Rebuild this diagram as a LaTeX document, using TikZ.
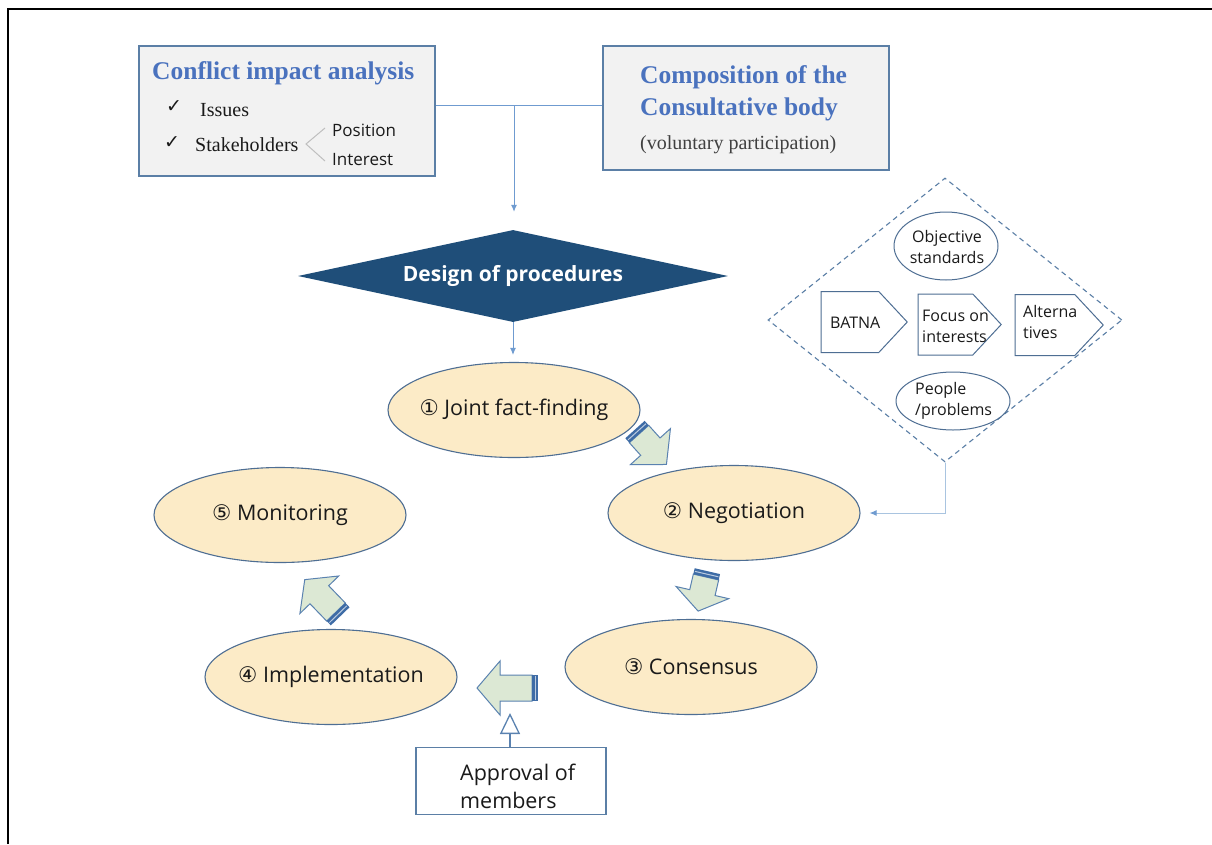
\documentclass[tikz,border=0pt]{standalone}
\usepackage{fontspec}
\setmainfont{Liberation Serif}
\setsansfont{Open Sans}
\newfontfamily\symf{DejaVu Sans}
\usetikzlibrary{shapes.geometric,shapes.symbols,arrows.meta}

\definecolor{boxline}{HTML}{5B7FA6}
\definecolor{boxfill}{HTML}{F2F2F2}
\definecolor{titleblue}{HTML}{4A72BE}
\definecolor{navy}{HTML}{1F4E79}
\definecolor{peach}{HTML}{FCEBC7}
\definecolor{ellline}{HTML}{4E6E93}
\definecolor{arrfill}{HTML}{DCE8D4}
\definecolor{arrline}{HTML}{5A82B0}
\definecolor{stripe}{HTML}{3E6CA6}
\definecolor{conn}{HTML}{6F9BD0}
\definecolor{connlight}{HTML}{A9C4E0}
\definecolor{txt}{HTML}{1A1A1A}

\tikzset{
  infobox/.style={draw=boxline, line width=1.2pt, fill=boxfill, inner sep=0pt},
  stage/.style={ellipse, draw=ellline, line width=1.1pt, fill=peach, inner xsep=-40pt, inner ysep=0pt,
    minimum width=252pt, minimum height=95pt, font=\sffamily\fontsize{21.5}{25}\selectfont, text=txt},
  principle/.style={signal, signal to=east, signal pointer angle=94, draw=ellline, line width=1pt,
    fill=white, inner sep=0pt, minimum height=61pt},
  small/.style={font=\sffamily\fontsize{16}{21}\selectfont, text=txt, align=left, inner sep=0pt},
  flow/.style={draw=conn, line width=1pt, -{Latex[length=7pt,width=6pt]}},
  serifnote/.style={font=\fontsize{20}{23}\selectfont, text=txt, inner sep=0pt},
  sansnote/.style={font=\sffamily\fontsize{17}{20}\selectfont, text=txt, inner sep=0pt},
  headline/.style={font=\bfseries\fontsize{25.5}{32}\selectfont, text=titleblue, inner sep=0pt, align=left},
  tick/.style={font=\symf\fontsize{19}{21}\selectfont, text=txt, inner sep=0pt},
}

% fat block arrow: position of the tail, direction, shaft length, head length
\newcommand\fatarrow[4]{%
  \begin{scope}[shift={#1}, rotate=#2]
    \filldraw[fill=arrfill, draw=arrline, line width=1pt, line join=miter]
      (0,13) -- (#3,13) -- (#3,27) -- ({#3+#4},0) -- (#3,-27) -- (#3,-13) -- (0,-13) -- cycle;
    \fill[stripe] (-6,-13) rectangle (0,13);
    \draw[white!65!stripe, line width=1pt] (-3,-12) -- (-3,12);
  \end{scope}}

\begin{document}
\begin{tikzpicture}[x=1pt, y=-1pt]
\useasboundingbox (0,0) rectangle (1212,844);
\fill[white] (0,0) rectangle (1212,844);

% page frame
\draw[line width=2.5pt] (8,844) -- (8,9) -- (1212,9);

% conflict impact analysis
\node[infobox, minimum width=296pt, minimum height=130pt] (cia) at (287,111) {};
\node[headline, anchor=west] (ciat) at (152,73) {Conflict impact analysis};
\node[tick] (ck1) at (174,107) {✓};
\node[tick] (ck2) at (172,143) {✓};
\node[serifnote, anchor=west] (iss) at (200,110) {Issues};
\node[serifnote, anchor=west] (stk) at (195,145) {Stakeholders};
\node[sansnote, anchor=west] (pos) at (332,130) {Position};
\node[sansnote, anchor=west] (intr) at (332,160) {Interest};
\draw[black!25, line width=1pt] (325,128) -- (306,144) -- (325,161);

% composition of the consultative body
\node[infobox, minimum width=286pt, minimum height=124pt] (comp) at (746,108) {};
\node[headline, anchor=north west] (compt) at (640,65) {Composition of the\\Consultative body};
\node[serifnote, anchor=west, text=black!75] (vol) at (640,145) {(voluntary participation)};

% design of procedures
\node[diamond, aspect=4.67, minimum width=430pt, minimum height=92pt, inner sep=0pt,
  fill=navy, text=white, font=\sffamily\bfseries\fontsize{21}{24}\selectfont] (design) at (513,276)
  {Design of procedures};

\coordinate (join) at (514,105);
\draw[conn, line width=1pt] (cia.east |- join) -- (comp.west |- join);
\draw[flow, shorten >=18pt] (join) -- (join |- design.north);

% process stages
\node[stage] (jf)  at (514,410) {{\symf ①} Joint fact-finding};
\node[stage] (neg) at (734,513) {{\symf ②} Negotiation};
\node[stage] (con) at (691,667) {{\symf ③} Consensus};
\node[stage] (imp) at (331,677) {{\symf ④} Implementation};
\node[stage] (mon) at (280,515) {{\symf ⑤} Monitoring};

\draw[flow, shorten >=7pt] (design.south) -- (design.south |- jf.north);

% block arrows between the stages
\fatarrow{(639,434)}{-48}{17}{24}
\fatarrow{(706,577)}{-103}{16}{19}
\fatarrow{(532,688)}{180}{32}{23}
\fatarrow{(336,612)}{134}{24}{21}

% approval of members
\node[draw=boxline, line width=1.2pt, fill=white, minimum width=190pt, minimum height=67pt,
  inner sep=0pt] (appr) at (511,781) {};
\node[font=\sffamily\fontsize{21.5}{28}\selectfont, text=txt, align=left, anchor=west, inner sep=0pt]
  (apprt) at (460,786) {Approval of\\members};
\draw[draw=arrline, line width=1.3pt, -{Triangle[open, length=21pt, width=20pt, line width=1.3pt]}]
  (appr.north -| 510,0) -- (510,713);

% principled negotiation
\node[diamond, aspect=1.25, minimum width=354pt, minimum height=284pt, inner sep=0pt,
  draw=boxline, line width=1.1pt, dash pattern=on 5pt off 4pt] (tips) at (945,320) {};
\node[ellipse, draw=ellline, line width=1pt, fill=white, minimum width=104pt, minimum height=68pt,
  inner sep=0pt] (obj) at (946,246) {};
\node[small, align=center] (objt) at (947,247) {Objective\\standards};
\node[principle, minimum width=86pt] (batna) at (850,322) {};
\node[small, anchor=west] (batnat) at (830,323) {BATNA};
\node[principle, minimum width=83pt] (focus) at (945.5,324.5) {};
\node[small, anchor=west] (focust) at (922,326) {Focus on\\interests};
\node[principle, minimum width=88pt] (alt) at (1045,325) {};
\node[small, anchor=west] (altt) at (1023,322) {Alterna\\tives};
\node[ellipse, draw=ellline, line width=1pt, fill=white, minimum width=114pt, minimum height=58pt,
  inner sep=0pt] (ppl) at (953,401) {};
\node[small, anchor=west] (pplt) at (915,401) {People\\/problems};

\draw[draw=connlight, line width=1pt, -{Latex[length=7pt,width=6pt, color=conn]}, shorten >=9pt]
  (tips.south) |- (neg.east);
\end{tikzpicture}
\end{document}
